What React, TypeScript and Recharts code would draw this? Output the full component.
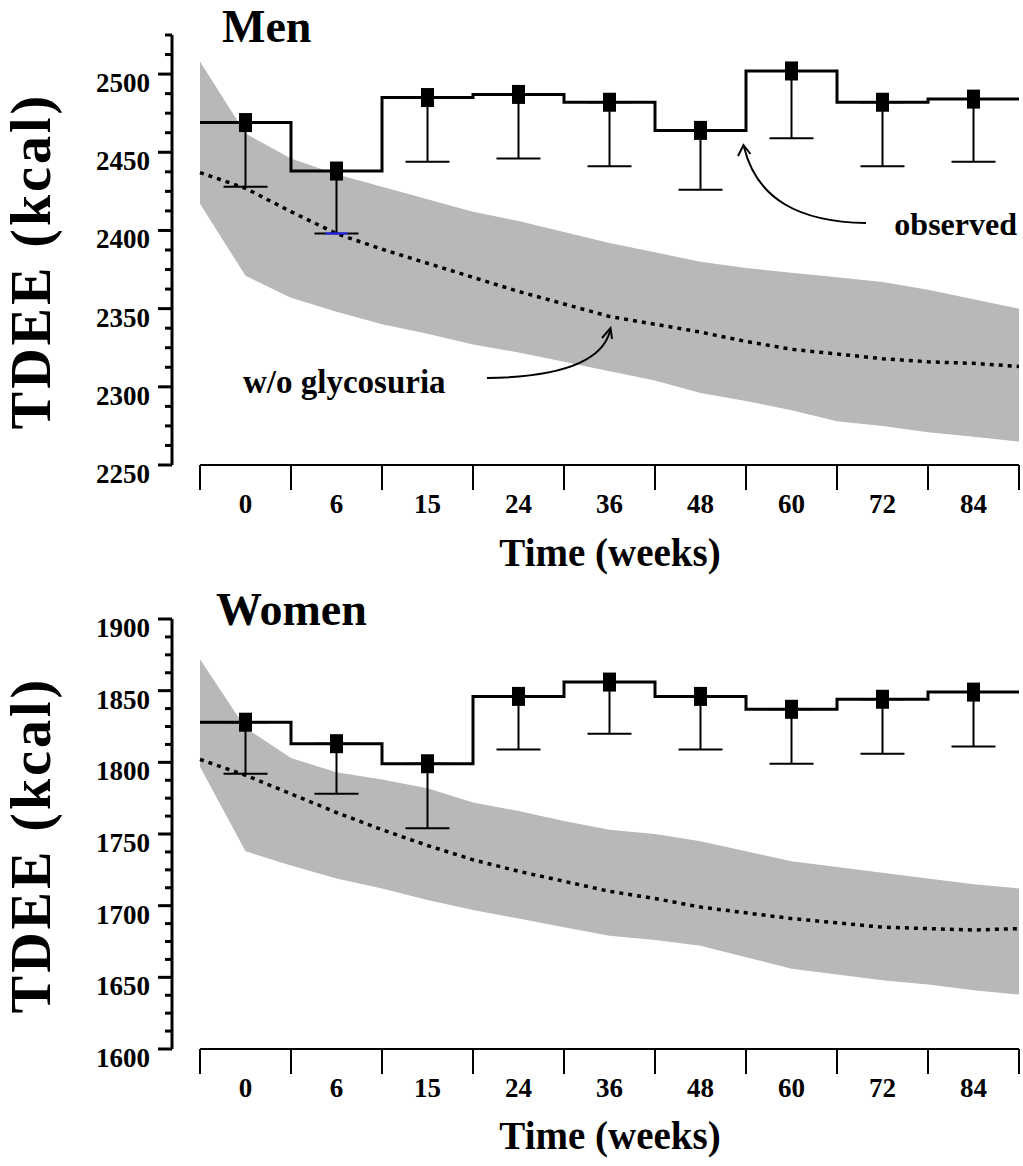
import { ComposedChart, Area, Line, Scatter, ErrorBar, XAxis, YAxis, ReferenceLine } from 'recharts';

const SERIF = '"Liberation Serif", "DejaVu Serif", serif';
const BAND = '#b8b8b8';

// visit labels, one per category box on the x axis
const WEEKS = ['0', '6', '15', '24', '36', '48', '60', '72', '84'];
// model samples in category units: box edges and centres
const SAMPLE_X = [0, 0.5, 1, 1.5, 2, 2.5, 3, 3.5, 4, 4.5, 5, 5.5, 6, 6.5, 7, 7.5, 8, 8.5, 9];
const X_TICKS = SAMPLE_X;

// Men
const MEN_OBSERVED = [2469, 2438, 2485, 2487, 2482, 2464, 2502, 2482, 2484];
const MEN_ERR_LOW = [2428, 2398, 2444, 2446, 2441, 2426, 2459, 2441, 2444];
const MEN_MODEL = [2437, 2427, 2412, 2398, 2388, 2379, 2370, 2361, 2353, 2345, 2340, 2335, 2329, 2324, 2321, 2318, 2316, 2315, 2313];
const MEN_BAND_HIGH = [2508, 2462, 2446, 2436, 2428, 2420, 2412, 2406, 2399, 2392, 2386, 2380, 2376, 2373, 2370, 2367, 2362, 2356, 2350];
const MEN_BAND_LOW = [2417, 2371, 2357, 2348, 2340, 2334, 2327, 2322, 2316, 2310, 2304, 2296, 2291, 2285, 2278, 2275, 2271, 2268, 2265];
const MEN_Y_LABELS = [2250, 2300, 2350, 2400, 2450, 2500];
const MEN_Y_DOMAIN = [2250, 2525];
const MEN_BLUE_CAPS = [1];

// Women
const WOMEN_OBSERVED = [1828, 1813, 1799, 1846, 1856, 1846, 1837, 1844, 1849];
const WOMEN_ERR_LOW = [1792, 1778, 1754, 1809, 1820, 1809, 1799, 1806, 1811];
const WOMEN_MODEL = [1802, 1791, 1778, 1765, 1753, 1742, 1732, 1724, 1717, 1710, 1705, 1699, 1695, 1691, 1688, 1685, 1684, 1683, 1684];
const WOMEN_BAND_HIGH = [1872, 1824, 1803, 1793, 1788, 1782, 1772, 1766, 1759, 1753, 1750, 1745, 1738, 1731, 1727, 1723, 1719, 1715, 1712];
const WOMEN_BAND_LOW = [1797, 1738, 1728, 1719, 1712, 1704, 1697, 1691, 1685, 1679, 1676, 1672, 1664, 1656, 1652, 1648, 1645, 1641, 1638];
const WOMEN_Y_LABELS = [1600, 1650, 1700, 1750, 1800, 1850, 1900];
const WOMEN_Y_DOMAIN = [1600, 1900];

const MINOR_STEP = 12.5;

function yTicks(domain: number[]) {
  const out: number[] = [];
  for (let v = domain[0]; v <= domain[1] + 0.01; v += MINOR_STEP) out.push(v);
  return out;
}

const YTick = (props: any) => {
  const { x, y, payload, labels } = props;
  const major = labels.includes(payload.value);
  return (
    <g>
      <line x1={x - (major ? 14 : 7)} x2={x} y1={y} y2={y} stroke="#000" strokeWidth={3} />
      {major && (
        <text x={x - 22} y={y + 18} textAnchor="end" fontFamily={SERIF} fontWeight="bold" fontSize={27} fill="#000">
          {payload.value}
        </text>
      )}
    </g>
  );
};

const XTick = (props: any) => {
  const { x, y, payload } = props;
  const v = payload.value;
  if (Number.isInteger(v)) {
    return <line x1={x} x2={x} y1={y} y2={y + 25} stroke="#000" strokeWidth={2} />;
  }
  return (
    <text x={x} y={y + 48} textAnchor="middle" fontFamily={SERIF} fontWeight="bold" fontSize={27} fill="#000">
      {WEEKS[Math.floor(v)]}
    </text>
  );
};

const Marker = (props: any) => {
  const { cx, cy } = props;
  return <rect x={cx - 6.5} y={cy - 9.5} width={13} height={19} fill="#000" />;
};

const BlueCap = (props: any) => {
  const { cx, cy } = props;
  return <line x1={cx - 11} x2={cx + 11} y1={cy} y2={cy} stroke="#2222ff" strokeWidth={2} />;
};

function Panel(props: any) {
  const { title, titleX, observed, errLow, model, bandLow, bandHigh, yDomain, yLabels, blueCaps = [], marginTop, marginBottom, children } = props;

  const rows = SAMPLE_X.map((x, i) => ({
    x,
    band: [bandLow[i], bandHigh[i]],
    model: model[i],
    observed: observed[Math.min(Math.floor(x), observed.length - 1)],
  }));
  const points = observed.map((v: number, c: number) => ({ x: c + 0.5, mark: v, err: [v - errLow[c], 0] }));
  const caps = blueCaps.map((c: number) => ({ x: c + 0.5, cap: errLow[c] }));

  return (
    <div style={{ position: 'relative', width: 1023, height: 583 }}>
      <ComposedChart width={1023} height={583} data={rows} margin={{ top: marginTop, right: 4, bottom: marginBottom, left: 0 }}>
        <XAxis
          dataKey="x"
          type="number"
          domain={[0, 9]}
          ticks={X_TICKS}
          interval={0}
          padding={{ left: 28, right: 0 }}
          axisLine={false}
          tickLine={false}
          tickSize={0}
          tickMargin={0}
          height={60}
          tick={<XTick />}
        />
        <YAxis
          type="number"
          domain={yDomain}
          ticks={yTicks(yDomain)}
          interval={0}
          allowDataOverflow
          width={172}
          tickLine={false}
          tickSize={0}
          tickMargin={0}
          axisLine={{ stroke: '#000', strokeWidth: 3 }}
          tick={(p: any) => <YTick {...p} labels={yLabels} />}
        />
        <ReferenceLine
          segment={[{ x: 0, y: yDomain[0] }, { x: 9, y: yDomain[0] }]}
          stroke="#000"
          strokeWidth={2}
          ifOverflow="visible"
        />
        <Area dataKey="band" type="linear" stroke="none" fill={BAND} fillOpacity={1} isAnimationActive={false} />
        <Line dataKey="model" type="linear" stroke="#000" strokeWidth={3.5} strokeDasharray="4 5" dot={false} isAnimationActive={false} />
        <Line dataKey="observed" type="stepAfter" stroke="#000" strokeWidth={3} dot={false} isAnimationActive={false} />
        <Scatter data={points} dataKey="mark" shape={<Marker />} isAnimationActive={false}>
          <ErrorBar dataKey="err" direction="y" width={22} stroke="#000" strokeWidth={2} isAnimationActive={false} />
        </Scatter>
        {caps.length > 0 && <Scatter data={caps} dataKey="cap" shape={<BlueCap />} isAnimationActive={false} />}
      </ComposedChart>
      <svg width={1023} height={583} style={{ position: 'absolute', left: 0, top: 0, pointerEvents: 'none' }}>
        <text x={titleX} y={42} fontFamily={SERIF} fontWeight="bold" fontSize={46} fill="#000">{title}</text>
        <text
          transform={`translate(50, ${marginTop + 226}) rotate(-90)`}
          textAnchor="middle"
          fontFamily={SERIF}
          fontWeight="bold"
          fontSize={56}
          letterSpacing={3}
          fill="#000"
        >
          TDEE (kcal)
        </text>
        <text x={610} y={566} textAnchor="middle" fontFamily={SERIF} fontWeight="bold" fontSize={39} fill="#000">
          Time (weeks)
        </text>
        {children}
      </svg>
    </div>
  );
}

export default function App() {
  return (
    <div style={{ position: 'absolute', left: 0, top: 0, width: 1023, height: 1166, background: '#fff' }}>
      <Panel
        title="Men"
        titleX={222}
        observed={MEN_OBSERVED}
        errLow={MEN_ERR_LOW}
        model={MEN_MODEL}
        bandLow={MEN_BAND_LOW}
        bandHigh={MEN_BAND_HIGH}
        yDomain={MEN_Y_DOMAIN}
        yLabels={MEN_Y_LABELS}
        blueCaps={MEN_BLUE_CAPS}
        marginTop={35}
        marginBottom={58}
      >
        <text x={1017} y={235} textAnchor="end" fontFamily={SERIF} fontWeight="bold" fontSize={32} fill="#000">observed</text>
        <text x={243} y={393} fontFamily={SERIF} fontWeight="bold" fontSize={33} fill="#000">w/o glycosuria</text>
        <g fill="none" stroke="#000" strokeWidth={2}>
          <path d="M 866 223 C 800 222, 757 200, 744 147" />
          <polyline points="738,156 743.5,145 750.5,154" />
          <path d="M 487 378 C 560 377, 602 362, 610 331" />
          <polyline points="602,338 610.5,328 612,339" />
        </g>
      </Panel>
      <Panel
        title="Women"
        titleX={216}
        observed={WOMEN_OBSERVED}
        errLow={WOMEN_ERR_LOW}
        model={WOMEN_MODEL}
        bandLow={WOMEN_BAND_LOW}
        bandHigh={WOMEN_BAND_HIGH}
        yDomain={WOMEN_Y_DOMAIN}
        yLabels={WOMEN_Y_LABELS}
        marginTop={36}
        marginBottom={57}
      />
    </div>
  );
}
